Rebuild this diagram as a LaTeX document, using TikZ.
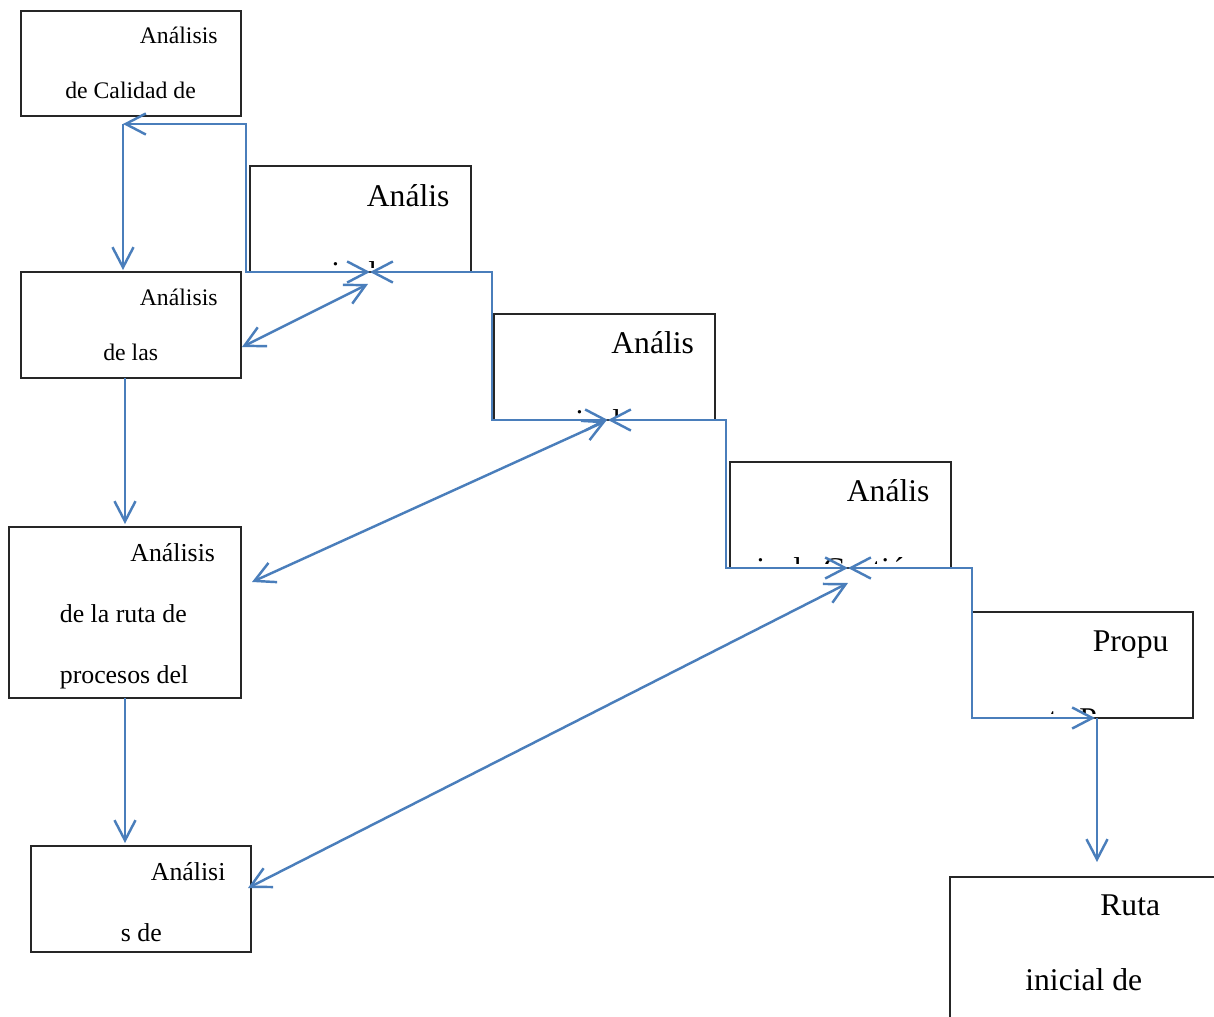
\documentclass[tikz,border=0pt]{standalone}
\usepackage{fontspec}
\setmainfont{Liberation Serif}
\usetikzlibrary{arrows.meta}
\definecolor{azul}{RGB}{74,126,187}

\tikzset{
  caja/.style={draw=black!85, line width=0.8pt, fill=white, inner sep=0pt, outer sep=0pt},
  flecha/.style={draw=azul, line width=1.4pt},
  txtA/.style={anchor=base west, inner sep=0pt, font=\fontsize{13.5}{16}\selectfont},
  txtB/.style={anchor=base west, inner sep=0pt, font=\fontsize{14.7}{17}\selectfont},
  txtC/.style={anchor=base west, inner sep=0pt, font=\fontsize{18}{21}\selectfont}
}

\begin{document}
\begin{tikzpicture}[x=0.02cm,y=-0.02cm,>={Straight Barb[length=11.5pt,width=12pt]}]
  \useasboundingbox (0,0) rectangle (1214,1017);

  % boxes, left column
  \node[caja,minimum width=4.4cm,minimum height=2.1cm] (b1) at (131,63.5) {};
  \node[caja,minimum width=4.4cm,minimum height=2.12cm] (b6) at (131,325) {};
  \node[caja,minimum width=4.64cm,minimum height=3.42cm] (b7) at (125,612.5) {};
  \node[caja,minimum width=4.4cm,minimum height=2.12cm] (b8) at (141,899) {};

  % boxes, steps
  \node[caja,minimum width=4.42cm,minimum height=2.12cm] (b2) at (360.5,219) {};
  \node[caja,minimum width=4.42cm,minimum height=2.12cm] (b3) at (604.5,367) {};
  \node[caja,minimum width=4.42cm,minimum height=2.12cm] (b4) at (840.5,515) {};
  \node[caja,minimum width=4.42cm,minimum height=2.12cm] (b5) at (1082.5,665) {};
  \node[caja,minimum width=5.8cm,minimum height=3.8cm] (b9) at (1095,972) {};

  % texts
  \node[txtA] (t1a) at (139.5,43.5) {Análisis};
  \node[txtA] (t1b) at (65,98.5) {de Calidad de};
  \node[txtA] (t6a) at (139.5,305.5) {Análisis};
  \node[txtA] (t6b) at (103,360) {de las};
  \node[txtB] (t7a) at (130,561.5) {Análisis};
  \node[txtB] (t7b) at (59.5,622.5) {de la ruta de};
  \node[txtB] (t7c) at (59.5,683.5) {procesos del};
  \node[txtB] (t8a) at (150.5,880.5) {Análisi};
  \node[txtB] (t8b) at (120.5,941.5) {s de};
  \node[txtC] (t2a) at (366.5,206) {Anális};
  \node[txtC] (t3a) at (611,353.5) {Anális};
  \node[txtC] (t4a) at (846.5,501.5) {Anális};
  \node[txtC] (t5a) at (1092.5,651) {Propu};
  \node[txtC] (t9a) at (1100,915) {Ruta};
  \node[txtC] (t9b) at (1025,990) {inicial de};

  % cut second lines
  \begin{scope}
    \clip ([yshift=0.08cm]b2.south west) rectangle (b2.north east);
    \node[txtC] (t2b) at (331,283) {is de};
  \end{scope}
  \begin{scope}
    \clip ([yshift=0.08cm]b3.south west) rectangle (b3.north east);
    \node[txtC] (t3b) at (575,431) {is de};
  \end{scope}
  \begin{scope}
    \clip ([yshift=0.08cm]b4.south west) rectangle (b4.north east);
    \node[txtC] (t4b) at (756,579) {is de Gestión};
  \end{scope}
  \begin{scope}
    \clip ([yshift=0.08cm]b5.south west) rectangle (b5.north east);
    \node[txtC] (t5b) at (1022,729) {esta P};
  \end{scope}

  % junctions
  \coordinate (p1) at (123,124);
  \coordinate (j2) at (370,272);
  \coordinate (j3) at (608,420);
  \coordinate (j4) at (848,568);
  \coordinate (j5) at (1095,718);
  \coordinate (p5) at (1097,862);

  % steps
  \draw[flecha,<->] (p1) -- ++(123,0) |- (j2);
  \draw[flecha,<->] (j2) -- ++(122,0) |- (j3);
  \draw[flecha,<->] (j3) -- ++(118,0) |- (j4);
  \draw[flecha,<->] (j4) -- ++(124,0) |- (j5);

  % downwards
  \draw[flecha,->] (p1) -- ([yshift=0.04cm]p1 |- b6.north);
  \draw[flecha,->] (b6.south -| b7.north) -- ([yshift=0.06cm]b7.north);
  \draw[flecha,->] (b7.south) -- ([yshift=0.06cm]b7.south |- b8.north);
  \draw[flecha,->] (p5 |- b5.south) -- (p5);

  % diagonals
  \coordinate (q1) at (242,347);
  \coordinate (r1) at (368,284);
  \coordinate (q2) at (252,582);
  \coordinate (r2) at (606,421);
  \coordinate (q3) at (248,888);
  \coordinate (r3) at (848,583);
  \draw[flecha,<->] (q1) -- (r1);
  \draw[flecha,<->] (q2) -- (r2);
  \draw[flecha,<->] (q3) -- (r3);
\end{tikzpicture}
\end{document}
